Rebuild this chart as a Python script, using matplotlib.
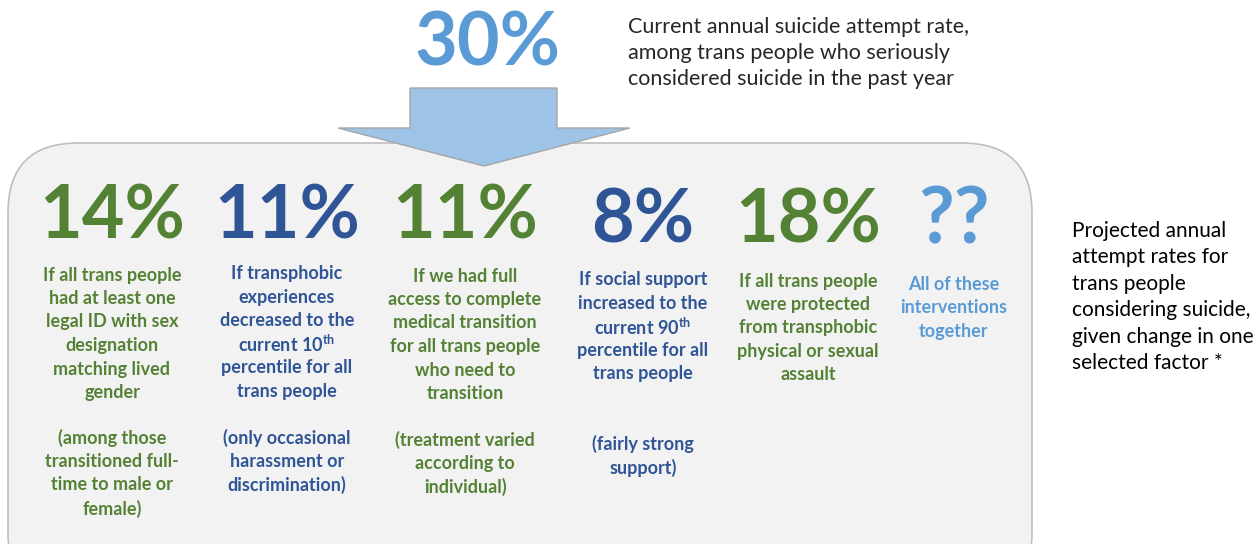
import matplotlib.pyplot as plt
from matplotlib.patches import FancyBboxPatch, Polygon

plt.rcParams['mathtext.fontset'] = 'custom'
plt.rcParams['mathtext.rm'] = 'Lato:bold'
plt.rcParams['mathtext.bf'] = 'Lato:bold'

# dados do infográfico
current_rate = "30%"
current_label = ["Current annual suicide attempt rate,",
                 "among trans people who seriously",
                 "considered suicide in the past year"]

rates = ["14%", "11%", "11%", "8%", "18%", "??"]
descriptions = [
    ["If all trans people", "had at least one", "legal ID with sex",
     "designation", "matching lived", "gender"],
    ["If transphobic", "experiences", "decreased to the",
     r"current 10$^{\mathrm{th}}$", "percentile for all", "trans people"],
    ["If we had full", "access to complete", "medical transition",
     "for all trans people", "who need to", "transition"],
    ["If social support", "increased to the", r"current 90$^{\mathrm{th}}$",
     "percentile for all", "trans people"],
    ["If all trans people", "were protected", "from transphobic",
     "physical or sexual", "assault"],
    ["All of these", "interventions", "together"],
]
notes = [
    ["(among those", "transitioned full-", "time to male or", "female)"],
    ["(only occasional", "harassment or", "discrimination)"],
    ["(treatment varied", "according to", "individual)"],
    ["(fairly strong", "support)"],
    [],
    [],
]
side_label = ["Projected annual", "attempt rates for", "trans people",
              "considering suicide,", "given change in one",
              "selected factor *"]

# layout (pixels)
GREEN = "#548235"
BLUE = "#2f5597"
LIGHT = "#5b9bd5"
col_colors = [GREEN, BLUE, GREEN, BLUE, GREEN, LIGHT]
col_x = [112, 287, 465, 643, 808, 954]
rate_y = [217, 217, 217, 221, 221, 222]
desc_y0 = [275, 274, 276, 280, 281, 284]
note_y0 = [438, 438, 440, 444, 0, 0]
line_h = 23.5

fig = plt.figure(figsize=(12.59, 5.44), dpi=100)
ax = fig.add_axes([0, 0, 1, 1])
ax.set_xlim(0, 1259)
ax.set_ylim(544, 0)
ax.axis('off')

# caixa arredondada
box = FancyBboxPatch((8, 143), 1024, 460,
                     boxstyle="round,pad=0,rounding_size=70",
                     facecolor="#f2f2f2", edgecolor="#bfbfbf", lw=1.2)
ax.add_patch(box)

# seta
arrow = Polygon([(410, 88), (557, 88), (557, 128), (630, 128), (484, 166),
                 (338, 128), (410, 128)], closed=True,
                facecolor="#9dc3e6", edgecolor="#a6a6a6", lw=1)
ax.add_patch(arrow)

ax.text(488, 44, current_rate, color=LIGHT, fontsize=53, family='Lato',
        weight='bold', ha='center', va='center')
for i, line in enumerate(current_label):
    ax.text(628, 27 + i * 26, line, color="#262626", fontsize=15.5,
            family='Lato', ha='left', va='center')

for j in range(len(rates)):
    c = col_colors[j]
    ax.text(col_x[j], rate_y[j], rates[j], color=c,
            fontsize=56 if rates[j] == "??" else 53,
            family='Lato', weight='bold', ha='center', va='center')
    for i, line in enumerate(descriptions[j]):
        ax.text(col_x[j], desc_y0[j] + i * line_h, line, color=c,
                fontsize=13, family='Lato', weight='bold',
                ha='center', va='center')
    for i, line in enumerate(notes[j]):
        ax.text(col_x[j], note_y0[j] + i * line_h, line, color=c,
                fontsize=13, family='Lato', weight='bold',
                ha='center', va='center')

for i, line in enumerate(side_label):
    ax.text(1072, 231 + i * 26.4, line, color="#000000", fontsize=15,
            family='Lato', ha='left', va='center')

fig.savefig("out.png", dpi=100)
